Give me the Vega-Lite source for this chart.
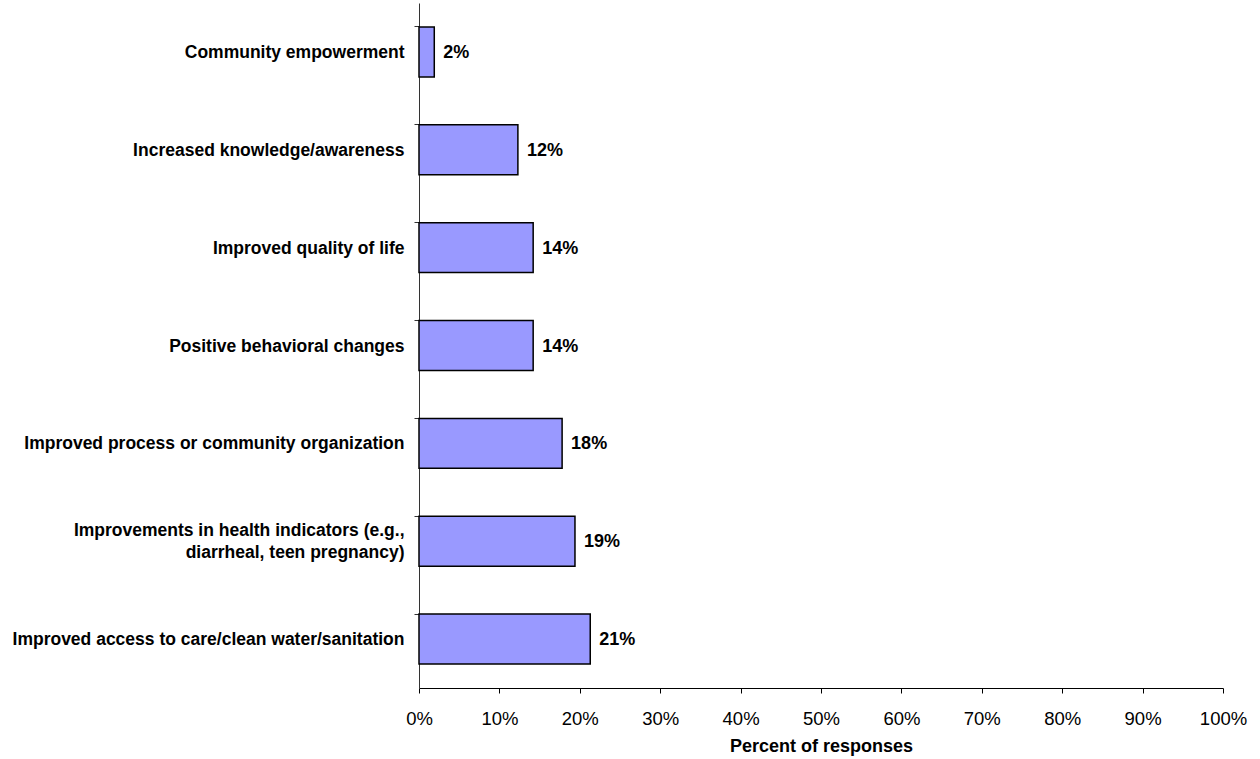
{
  "$schema": "https://vega.github.io/schema/vega-lite/v6.json",
  "autosize": "none",
  "width": 804,
  "height": 685,
  "padding": {"left": 419, "top": 3, "right": 37, "bottom": 71},
  "background": "white",
  "data": {"values": [
    {"category": "Community empowerment", "value": 1.9, "label": "2%"},
    {"category": "Increased knowledge/awareness", "value": 12.3, "label": "12%"},
    {"category": "Improved quality of life", "value": 14.2, "label": "14%"},
    {"category": "Positive behavioral changes", "value": 14.2, "label": "14%"},
    {"category": "Improved process or community organization", "value": 17.8, "label": "18%"},
    {"category": "Improvements in health indicators (e.g.,|diarrheal, teen pregnancy)", "value": 19.4, "label": "19%"},
    {"category": "Improved access to care/clean water/sanitation", "value": 21.3, "label": "21%"}
  ]},
  "encoding": {
    "y": {
      "field": "category", "type": "nominal", "sort": null,
      "scale": {"paddingInner": 0.49, "paddingOuter": 0.245},
      "axis": {
        "title": null, "bandPosition": 0, "tickSize": 5, "labelPadding": 10,
        "labelExpr": "split(datum.label, '|')",
        "labelOffset": {"condition": {"test": "indexof(datum.value, '|') >= 0", "value": -10}, "value": 1},
        "labelFont": "Liberation Sans", "labelFontSize": 17.5, "labelFontWeight": "bold",
        "labelColor": "black", "domainColor": "#333", "tickColor": "#333",
        "labelLimit": 0, "labelLineHeight": 22, "grid": false
      }
    },
    "x": {
      "field": "value", "type": "quantitative",
      "scale": {"domain": [0, 100], "nice": false},
      "axis": {
        "title": "Percent of responses", "values": [0,10,20,30,40,50,60,70,80,90,100],
        "labelExpr": "datum.value + '%'", "tickSize": 5, "labelPadding": 16, "labelFlush": false,
        "labelFont": "Liberation Sans", "labelFontSize": 18.5, "labelColor": "black",
        "titleFont": "Liberation Sans", "titleFontSize": 18, "titleFontWeight": "bold",
        "titlePadding": 10, "titleColor": "black",
        "domainColor": "black", "tickColor": "black", "grid": false
      }
    }
  },
  "layer": [
    {"mark": {"type": "bar", "color": "#9999FF", "stroke": "black", "strokeWidth": 1.5}},
    {"mark": {"type": "text", "align": "left", "dx": 9, "dy": 1, "font": "Liberation Sans", "fontSize": 18, "fontWeight": "bold", "color": "black"},
     "encoding": {"text": {"field": "label"}}}
  ],
  "config": {"view": {"stroke": null}}
}
